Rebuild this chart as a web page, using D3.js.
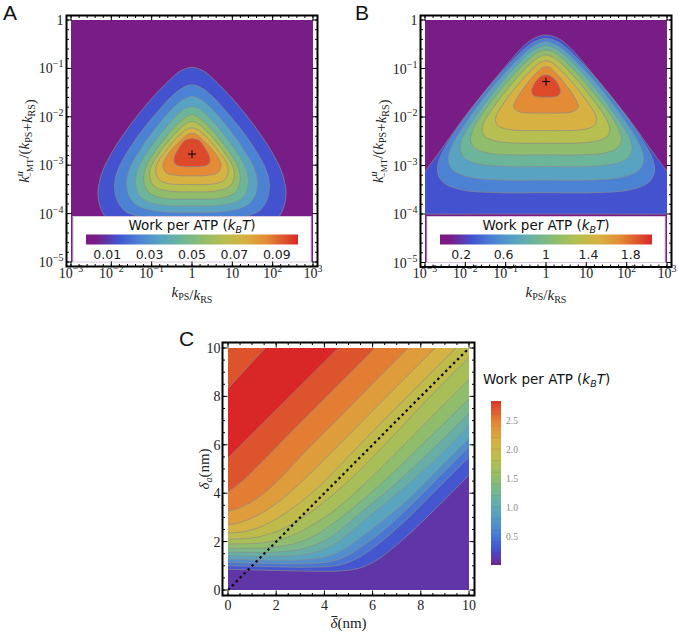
<!DOCTYPE html>
<html><head><meta charset="utf-8">
<script src="https://cdn.jsdelivr.net/npm/d3@7"></script>
<style>body{margin:0;background:#fff}svg{display:block}</style>
</head><body>
<svg id="chart" width="678" height="636"></svg>
<script>
// ---------- colour scheme (Mathematica-like "Rainbow") ----------
const rainbowStops  = [0, 0.05, 0.15, 0.25, 0.35, 0.45, 0.55, 0.65, 0.75, 0.85, 0.95, 1];
const rainbowColors = ["#7b1a85","#781c86","#4352cf","#4b82d4","#58a3c1","#6db59a","#90bd6b","#b6bf4f","#d7b142","#e48b35","#dc4a2b","#d92727"];

// ---------- panel A : log10(kPS/kRS) vs log10(k^u_-MT/(kPS+kRS)) ----------
const aLevels = [0.01,0.02,0.03,0.04,0.05,0.06,0.07,0.08,0.09];
const aMax = 0.1;
// right half of every contour loop (log10 x, log10 y), top -> bottom; left half mirrors it
const aLoops = [
 [[0,-0.98],[0.28,-1.05],[0.58,-1.26],[1.05,-1.67],[1.54,-2.18],[1.96,-2.70],[2.21,-3.11],[2.33,-3.53],[2.26,-3.90],[2.03,-4.18],[1.51,-4.35],[0.82,-4.42],[0,-4.42]],
 [[0,-1.34],[0.23,-1.40],[0.48,-1.56],[0.86,-1.90],[1.27,-2.32],[1.61,-2.74],[1.82,-3.07],[1.92,-3.41],[1.86,-3.71],[1.67,-3.94],[1.25,-4.07],[0.67,-4.13],[0,-4.13]],
 [[0,-1.58],[0.19,-1.63],[0.41,-1.77],[0.73,-2.06],[1.07,-2.42],[1.36,-2.78],[1.54,-3.06],[1.62,-3.35],[1.57,-3.61],[1.41,-3.80],[1.05,-3.92],[0.57,-3.97],[0,-3.97]],
 [[0,-1.79],[0.17,-1.83],[0.35,-1.95],[0.63,-2.20],[0.92,-2.51],[1.18,-2.82],[1.33,-3.06],[1.40,-3.31],[1.36,-3.53],[1.22,-3.70],[0.91,-3.80],[0.49,-3.84],[0,-3.84]],
 [[0,-1.96],[0.14,-2.00],[0.30,-2.10],[0.54,-2.31],[0.79,-2.57],[1.01,-2.83],[1.14,-3.04],[1.20,-3.25],[1.16,-3.44],[1.04,-3.58],[0.78,-3.67],[0.42,-3.70],[0,-3.70]],
 [[0,-2.10],[0.13,-2.13],[0.26,-2.22],[0.47,-2.39],[0.69,-2.61],[0.88,-2.83],[1.00,-3.00],[1.05,-3.17],[1.02,-3.33],[0.91,-3.45],[0.68,-3.52],[0.37,-3.55],[0,-3.55]],
 [[0,-2.23],[0.11,-2.25],[0.23,-2.32],[0.41,-2.46],[0.59,-2.64],[0.76,-2.82],[0.86,-2.96],[0.90,-3.10],[0.87,-3.23],[0.78,-3.32],[0.59,-3.38],[0.32,-3.40],[0,-3.40]],
 [[0,-2.34],[0.09,-2.36],[0.18,-2.41],[0.32,-2.52],[0.48,-2.65],[0.60,-2.78],[0.68,-2.89],[0.72,-2.99],[0.70,-3.09],[0.63,-3.16],[0.47,-3.20],[0.25,-3.22],[0,-3.22]],
 [[0,-2.445],[0.09,-2.46],[0.18,-2.49],[0.26,-2.56],[0.33,-2.65],[0.39,-2.74],[0.43,-2.81],[0.45,-2.88],[0.44,-2.94],[0.39,-2.99],[0.29,-3.02],[0.16,-3.03],[0,-3.03]]
];
const aPeak = [0, -2.77];
const aLegendTicks = [0.01,0.03,0.05,0.07,0.09];

// ---------- panel B ----------
const bLevels = [0.2,0.4,0.6,0.8,1.0,1.2,1.4,1.6,1.8];
const bMax = 2.0;
const bLoops = [
 [[0,-0.31],[0.28,-0.37],[0.56,-0.54],[1.2,-1.15],[2.0,-1.98],[3.0,-3.12],[3.6,-3.7],[3.6,-3.98],[3.0,-4.0],[1.2,-4.0],[0,-4.0]],
 [[0,-0.38],[0.27,-0.44],[0.54,-0.60],[1.21,-1.18],[1.83,-1.81],[2.37,-2.45],[2.64,-2.86],[2.69,-3.12],[2.56,-3.34],[2.10,-3.50],[1.21,-3.56],[0,-3.56]],
 [[0,-0.45],[0.24,-0.51],[0.48,-0.65],[1.09,-1.16],[1.65,-1.73],[2.13,-2.30],[2.37,-2.67],[2.42,-2.90],[2.30,-3.10],[1.89,-3.24],[1.09,-3.30],[0,-3.30]],
 [[0,-0.53],[0.21,-0.58],[0.43,-0.70],[0.96,-1.15],[1.45,-1.65],[1.87,-2.15],[2.09,-2.47],[2.13,-2.67],[2.02,-2.85],[1.66,-2.97],[0.96,-3.02],[0,-3.02]],
 [[0,-0.62],[0.19,-0.66],[0.37,-0.77],[0.84,-1.16],[1.27,-1.59],[1.65,-2.02],[1.83,-2.31],[1.87,-2.48],[1.78,-2.63],[1.46,-2.74],[0.84,-2.78],[0,-2.78]],
 [[0,-0.72],[0.16,-0.76],[0.32,-0.85],[0.71,-1.18],[1.07,-1.54],[1.39,-1.90],[1.55,-2.14],[1.58,-2.29],[1.50,-2.41],[1.23,-2.50],[0.71,-2.54],[0,-2.54]],
 [[0,-0.84],[0.13,-0.87],[0.25,-0.94],[0.56,-1.20],[0.85,-1.49],[1.10,-1.78],[1.23,-1.96],[1.25,-2.08],[1.19,-2.18],[0.98,-2.25],[0.56,-2.28],[0,-2.28]],
 [[0,-0.96],[0.08,-0.98],[0.16,-1.03],[0.36,-1.20],[0.54,-1.39],[0.70,-1.58],[0.78,-1.71],[0.80,-1.79],[0.76,-1.85],[0.62,-1.90],[0.36,-1.92],[0,-1.92]],
 [[0,-1.13],[0.07,-1.14],[0.14,-1.17],[0.22,-1.23],[0.29,-1.31],[0.34,-1.40],[0.36,-1.46],[0.35,-1.51],[0.30,-1.56],[0.20,-1.585],[0.10,-1.59],[0,-1.59]]
];
const bPeak = [0, -1.27];
const bLegendTicks = [0.2,0.6,1,1.4,1.8];

// shared log-axis ticks
const logXTicks = [-3,-2,-1,0,1,2,3];
const logYTicks = [-5,-4,-3,-2,-1,0];

// ---------- panel C : delta-bar (nm) vs delta_a (nm) ----------
const cLevels = [0.2,0.4,0.6,0.8,1.0,1.2,1.4,1.6,1.8,2.0,2.2,2.4,2.6,2.8];
const cColorLo = -0.2, cColorHi = 2.9;
const cCurves = [
 [[0,0.85],[1.5,0.82],[3,0.78],[4.2,0.77],[5,0.82],[5.6,0.95],[6.2,1.25],[6.8,1.7],[7.5,2.3],[8.5,3.25],[10,4.75]],
 [[0,1.0],[1.5,0.97],[3,0.94],[4,0.96],[4.7,1.05],[5.3,1.28],[5.9,1.65],[6.6,2.2],[7.5,3.0],[8.7,4.2],[10,5.5]],
 [[0,1.14],[1.5,1.1],[2.8,1.08],[3.8,1.12],[4.5,1.24],[5.1,1.5],[5.7,1.9],[6.5,2.5],[7.5,3.42],[8.7,4.62],[10,5.92]],
 [[0,1.28],[1.4,1.24],[2.6,1.23],[3.5,1.28],[4.2,1.42],[4.8,1.68],[5.4,2.1],[6.2,2.7],[7.2,3.5],[8.6,4.87],[10,6.27]],
 [[0,1.42],[1.3,1.39],[2.4,1.4],[3.2,1.47],[3.9,1.65],[4.5,1.95],[5.1,2.4],[5.8,3.0],[6.8,3.8],[8.4,5.2],[10,6.8]],
 [[0,1.57],[1.2,1.55],[2.2,1.58],[3,1.68],[3.6,1.86],[4.2,2.15],[4.8,2.6],[5.5,3.2],[6.5,4.0],[8.2,5.55],[10,7.3]],
 [[0,1.73],[1.1,1.72],[2,1.78],[2.7,1.9],[3.3,2.1],[3.9,2.42],[4.5,2.85],[5.2,3.4],[6.2,4.25],[8,5.95],[10,7.9]],
 [[0,1.9],[0.9,1.91],[1.7,1.99],[2.4,2.15],[3,2.4],[3.6,2.75],[4.3,3.2],[5.2,3.95],[6.4,5.1],[8,6.7],[10,8.7]],
 [[0,2.1],[0.8,2.13],[1.5,2.25],[2.1,2.45],[2.7,2.75],[3.3,3.12],[4,3.65],[5,4.5],[6.5,6.0],[8.2,7.8],[10,9.6]],
 [[0,2.35],[0.6,2.4],[1.2,2.55],[1.8,2.82],[2.4,3.18],[3,3.62],[3.8,4.3],[5,5.52],[6.5,7.05],[8,8.55],[9.45,10]],
 [[0,2.7],[0.5,2.78],[1,2.98],[1.6,3.3],[2.2,3.72],[3,4.42],[4,5.4],[5.5,6.9],[7,8.41],[8.59,10]],
 [[0,3.25],[0.4,3.37],[0.9,3.6],[1.5,4.0],[2.2,4.65],[3,5.5],[4.5,7.0],[6,8.52],[7.48,10]],
 [[0,4.05],[0.5,4.42],[1.2,5.08],[2.5,6.4],[4,7.9],[6.1,10]],
 [[0,5.45],[4.58,10]]
];
const cTopCurve = [[0,8.33],[1.54,10]];   // second crossing of the highest level
const cTicks = [0,2,4,6,8,10];
const cBarTicks = [0.5,1.0,1.5,2.0,2.5];
const cBarMax = 2.83;
const diagX = [0,10], diagY = [0,10];

// ---------- drawing ----------
const svg = d3.select("#chart");
const defs = svg.append("defs");
const rainbow = d3.scaleLinear().domain(rainbowStops).range(rainbowColors).clamp(true);
const serif = "'Liberation Serif','Times New Roman',serif";
const sans = "'DejaVu Sans',Verdana,sans-serif";
const contourStroke = "#8c8c8c";

function clipRect(id, x0, y0, x1, y1){
  defs.append("clipPath").attr("id", id).append("rect")
    .attr("x", x0).attr("y", y0).attr("width", x1 - x0).attr("height", y1 - y0);
}

function frame(x, y, xMajor, yMajor, xMinorStep, yMinorStep, pad){
  const [x0, x1] = x.range(), [y1, y0] = y.range();
  const fx0 = x0 - pad, fx1 = x1 + pad, fy0 = y0 - pad, fy1 = y1 + pad;
  const g = svg.append("g");
  const xd = x.domain(), yd = y.domain();
  const xMinor = d3.range(xd[0], xd[1] + 1e-9, xMinorStep);
  const yMinor = d3.range(yd[0], yd[1] + 1e-9, yMinorStep);
  const tick = (vals, len, isX) => vals.forEach(v => {
    if (isX){
      const px = x(v);
      g.append("line").attr("x1",px).attr("x2",px).attr("y1",fy1).attr("y2",fy1-len);
      g.append("line").attr("x1",px).attr("x2",px).attr("y1",fy0).attr("y2",fy0+len);
    } else {
      const py = y(v);
      g.append("line").attr("y1",py).attr("y2",py).attr("x1",fx0).attr("x2",fx0+len);
      g.append("line").attr("y1",py).attr("y2",py).attr("x1",fx1).attr("x2",fx1-len);
    }
  });
  tick(xMinor, 2.5, true); tick(yMinor, 2.5, false);
  tick(xMajor, 5, true); tick(yMajor, 5, false);
  g.selectAll("line").attr("stroke","#000").attr("stroke-width",1);
  g.append("rect").attr("x",fx0).attr("y",fy0).attr("width",fx1-fx0).attr("height",fy1-fy0)
    .attr("fill","none").attr("stroke","#000").attr("stroke-width",2);
  return {fx0, fx1, fy0, fy1};
}

function powLabel(sel, e){
  if (e === 0) { sel.text("1"); return; }
  if (e === 1) { sel.text("10"); return; }
  sel.append("tspan").text("10");
  sel.append("tspan").attr("dy",-6).attr("font-size",10).text(e < 0 ? "\u2212" + (-e) : e);
}

function kTerm(t, sub){
  t.append("tspan").attr("font-style","italic").text("k");
  t.append("tspan").attr("font-size",10).attr("dy",3).text(sub);
  t.append("tspan").attr("dy",-3).text("");
}

function loopPanel(cfg){
  const {id, x, y, levels, max, loops, peak, legendTicks, legendFmt, label, labelX} = cfg;
  const [x0, x1] = x.range(), [y1, y0] = y.range();
  clipRect("clip"+id, x0, y0, x1, y1);
  const step = levels[1] - levels[0];
  const pg = svg.append("g").attr("clip-path", `url(#clip${id})`);
  pg.append("rect").attr("x",x0).attr("y",y0).attr("width",x1-x0).attr("height",y1-y0)
    .attr("fill", rainbow((levels[0] - step/2) / max));
  const line = d3.line().x(d => x(d[0])).y(d => y(d[1])).curve(d3.curveCatmullRomClosed.alpha(0.5));
  const full = loops.map(r => r.concat(r.slice(1, -1).reverse().map(p => [-p[0], p[1]])));
  pg.selectAll("path.fill").data(full).join("path")
    .attr("d", line).attr("fill", (d, i) => rainbow((levels[i] + step/2) / max)).attr("stroke","none");
  pg.selectAll("path.line").data(full).join("path").attr("class","line")
    .attr("d", line).attr("fill","none").attr("stroke",contourStroke).attr("stroke-width",0.8).attr("stroke-opacity",0.85);
  // peak marker
  const px = x(peak[0]), py = y(peak[1]);
  svg.append("path").attr("d", `M${px-4},${py}H${px+4}M${px},${py-4}V${py+4}`).attr("stroke","#000").attr("stroke-width",1);

  // legend box
  const cx = (x0 + x1) / 2;
  const lg = svg.append("g");
  lg.append("rect").attr("x", x0 + 2).attr("y", 216.5).attr("width", x1 - x0 - 4).attr("height", y1 - 216.5)
    .attr("fill","#fff").attr("stroke","#d9c7e2").attr("stroke-width",1);
  const tt = lg.append("text").attr("x", cx).attr("y", 229.5).attr("text-anchor","middle")
    .attr("font-family", sans).attr("font-size", 13.5).attr("fill","#111");
  tt.append("tspan").text("Work per ATP (");
  tt.append("tspan").attr("font-style","italic").text("k");
  tt.append("tspan").attr("font-style","italic").attr("font-size",9.5).attr("dy",3).text("B");
  tt.append("tspan").attr("font-style","italic").attr("dy",-3).text("T");
  tt.append("tspan").text(")");
  const gid = "grad"+id;
  const grad = defs.append("linearGradient").attr("id", gid);
  d3.range(0, 1.0001, 0.05).forEach(t => grad.append("stop").attr("offset", t).attr("stop-color", rainbow(t)));
  const bx = d3.scaleLinear().domain([0, max]).range([cx - 106, cx + 106]);
  lg.append("rect").attr("x", bx(0)).attr("y", 234.5).attr("width", bx(max) - bx(0)).attr("height", 10).attr("fill", `url(#${gid})`);
  lg.selectAll("text.lt").data(legendTicks).join("text").attr("class","lt")
    .attr("x", d => bx(d)).attr("y", 258.5).attr("text-anchor","middle")
    .attr("font-family", sans).attr("font-size", 12.5).attr("fill","#222").text(legendFmt);

  const f = frame(x, y, logXTicks, logYTicks, 0.2, 0.2, 4.5);
  // tick labels
  logXTicks.forEach(e => {
    const t = svg.append("text").attr("x", x(e)).attr("y", 277.5).attr("text-anchor","middle")
      .attr("font-family", serif).attr("font-size", 14).attr("fill","#222");
    powLabel(t, e);
  });
  logYTicks.forEach(e => {
    const t = svg.append("text").attr("x", f.fx0 - 3).attr("y", y(e) + 5).attr("text-anchor","end")
      .attr("font-family", serif).attr("font-size", 14).attr("fill","#222");
    powLabel(t, e);
  });
  // x title
  const xt = svg.append("text").attr("x", cx).attr("y", 297).attr("text-anchor","middle")
    .attr("font-family", serif).attr("font-size", 15).attr("fill","#222");
  kTerm(xt, "PS"); xt.append("tspan").text("/"); kTerm(xt, "RS");
  // y title
  const yt = svg.append("text").attr("transform", `translate(${f.fx0 - 38},${(y0 + y1) / 2}) rotate(-90)`)
    .attr("text-anchor","middle").attr("font-family", serif).attr("font-size", 15).attr("fill","#222");
  yt.append("tspan").attr("font-style","italic").text("k");
  yt.append("tspan").attr("font-style","italic").attr("font-size",10).attr("dy",-6).text("u");
  yt.append("tspan").attr("font-size",9).attr("dx",-6).attr("dy",10).text("\u2212MT");
  yt.append("tspan").attr("dy",-4).text("/(");
  kTerm(yt, "PS"); yt.append("tspan").text("+"); kTerm(yt, "RS"); yt.append("tspan").text(")");
  // panel letter
  svg.append("text").attr("x", labelX).attr("y", 20).attr("font-family","'Liberation Sans',Arial,sans-serif")
    .attr("font-size", 21).attr("fill","#111").text(label);
}

const fmtA = d => d3.format(".2f")(d);
const fmtB = d => String(d);

loopPanel({id:"A", x:d3.scaleLinear().domain([-3,3]).range([71,313]), y:d3.scaleLinear().domain([-5,0]).range([262,20]),
  levels:aLevels, max:aMax, loops:aLoops, peak:aPeak, legendTicks:aLegendTicks, legendFmt:fmtA, label:"A", labelX:3});
loopPanel({id:"B", x:d3.scaleLinear().domain([-3,3]).range([425,667]), y:d3.scaleLinear().domain([-5,0]).range([262.5,20]),
  levels:bLevels, max:bMax, loops:bLoops, peak:bPeak, legendTicks:bLegendTicks, legendFmt:fmtB, label:"B", labelX:355});

// ---------- panel C ----------
(function(){
  const x = d3.scaleLinear().domain([0,10]).range([228,469]);
  const y = d3.scaleLinear().domain([0,10]).range([590,348]);
  const cT = v => (v - cColorLo) / (cColorHi - cColorLo);
  const [x0, x1] = x.range(), [y1, y0] = y.range();
  clipRect("clipC", x0, y0, x1, y1);
  const step = cLevels[1] - cLevels[0];
  const pg = svg.append("g").attr("clip-path","url(#clipC)");
  pg.append("rect").attr("x",x0).attr("y",y0).attr("width",x1-x0).attr("height",y1-y0)
    .attr("fill", rainbow(cT(cLevels[0] - step/2)));
  const line = d3.line().x(d => x(d[0])).y(d => y(d[1])).curve(d3.curveMonotoneX);
  const lin = d3.line().x(d => x(d[0])).y(d => y(d[1]));
  const n = cLevels.length;
  cCurves.forEach((pts, i) => {
    let d;
    if (i === n - 1) {
      d = lin(pts.concat(cTopCurve.slice().reverse())) + "Z";
    } else {
      const last = pts[pts.length - 1];
      d = line(pts) + (last[1] < 10 ? `L${x(10)},${y(10)}` : "") + `L${x(0)},${y(10)}Z`;
    }
    pg.append("path").attr("d", d).attr("fill", rainbow(cT(cLevels[i] + step/2)));
  });
  cCurves.concat([cTopCurve]).forEach(pts => {
    pg.append("path").attr("d", line(pts)).attr("fill","none").attr("stroke",contourStroke)
      .attr("stroke-width",0.8).attr("stroke-opacity",0.85);
  });
  // dotted diagonal
  svg.append("path").attr("d", lin(diagX.map((v, i) => [v, diagY[i]])))
    .attr("stroke","#000").attr("stroke-width",2.2).attr("stroke-dasharray","2.4,3.2").attr("fill","none");

  const f = frame(x, y, cTicks, cTicks, 0.5, 0.5, 5.5);
  cTicks.forEach(v => {
    svg.append("text").attr("x", x(v)).attr("y", 610).attr("text-anchor","middle")
      .attr("font-family", serif).attr("font-size", 14).attr("fill","#222").text(v);
    svg.append("text").attr("x", f.fx0 - 2).attr("y", y(v) + 5).attr("text-anchor","end")
      .attr("font-family", serif).attr("font-size", 14).attr("fill","#222").text(v);
  });
  // x title with overbar
  const xt = svg.append("text").attr("x", (x0 + x1) / 2).attr("y", 628).attr("text-anchor","middle")
    .attr("font-family", serif).attr("font-size", 15).attr("fill","#222");
  xt.append("tspan").attr("font-style","italic").text("\u03b4");
  xt.append("tspan").text("(nm)");
  const ext = xt.node().getExtentOfChar(0);
  svg.append("line").attr("x1", ext.x + 1).attr("x2", ext.x + ext.width).attr("y1", ext.y + 1.5).attr("y2", ext.y + 1.5)
    .attr("stroke","#222").attr("stroke-width",1);
  // y title
  const yt = svg.append("text").attr("transform", `translate(209,${(y0 + y1) / 2}) rotate(-90)`)
    .attr("text-anchor","middle").attr("font-family", serif).attr("font-size", 15).attr("fill","#222");
  yt.append("tspan").attr("font-style","italic").text("\u03b4");
  yt.append("tspan").attr("font-style","italic").attr("font-size",10).attr("dy",3).text("a");
  yt.append("tspan").attr("dy",-3).text("(nm)");
  // panel letter
  svg.append("text").attr("x", 179).attr("y", 346).attr("font-family","'Liberation Sans',Arial,sans-serif")
    .attr("font-size", 21).attr("fill","#111").text("C");

  // colour bar legend
  const tt = svg.append("text").attr("x", 483).attr("y", 384).attr("font-family", sans).attr("font-size", 13.5).attr("fill","#111");
  tt.append("tspan").text("Work per ATP (");
  tt.append("tspan").attr("font-style","italic").text("k");
  tt.append("tspan").attr("font-style","italic").attr("font-size",9.5).attr("dy",3).text("B");
  tt.append("tspan").attr("font-style","italic").attr("dy",-3).text("T");
  tt.append("tspan").text(")");
  const by = d3.scaleLinear().domain([0, cBarMax]).range([565, 401]);
  const grad = defs.append("linearGradient").attr("id","gradC").attr("x1",0).attr("y1",1).attr("x2",0).attr("y2",0);
  d3.range(0, 1.0001, 0.05).forEach(t => grad.append("stop").attr("offset", t).attr("stop-color", rainbow(cT(t * cBarMax))));
  svg.append("rect").attr("x", 491).attr("y", by(cBarMax)).attr("width", 10).attr("height", by(0) - by(cBarMax)).attr("fill","url(#gradC)");
  cLevels.forEach(v => svg.append("line").attr("x1",491).attr("x2",501).attr("y1",by(v)).attr("y2",by(v))
    .attr("stroke","#000").attr("stroke-opacity",0.12).attr("stroke-width",0.6));
  cBarTicks.forEach(v => svg.append("text").attr("x", 506).attr("y", by(v) + 3.5)
    .attr("font-family", serif).attr("font-size", 9.5).attr("fill","#888").text(d3.format(".1f")(v)));
})();
</script>
</body></html>
